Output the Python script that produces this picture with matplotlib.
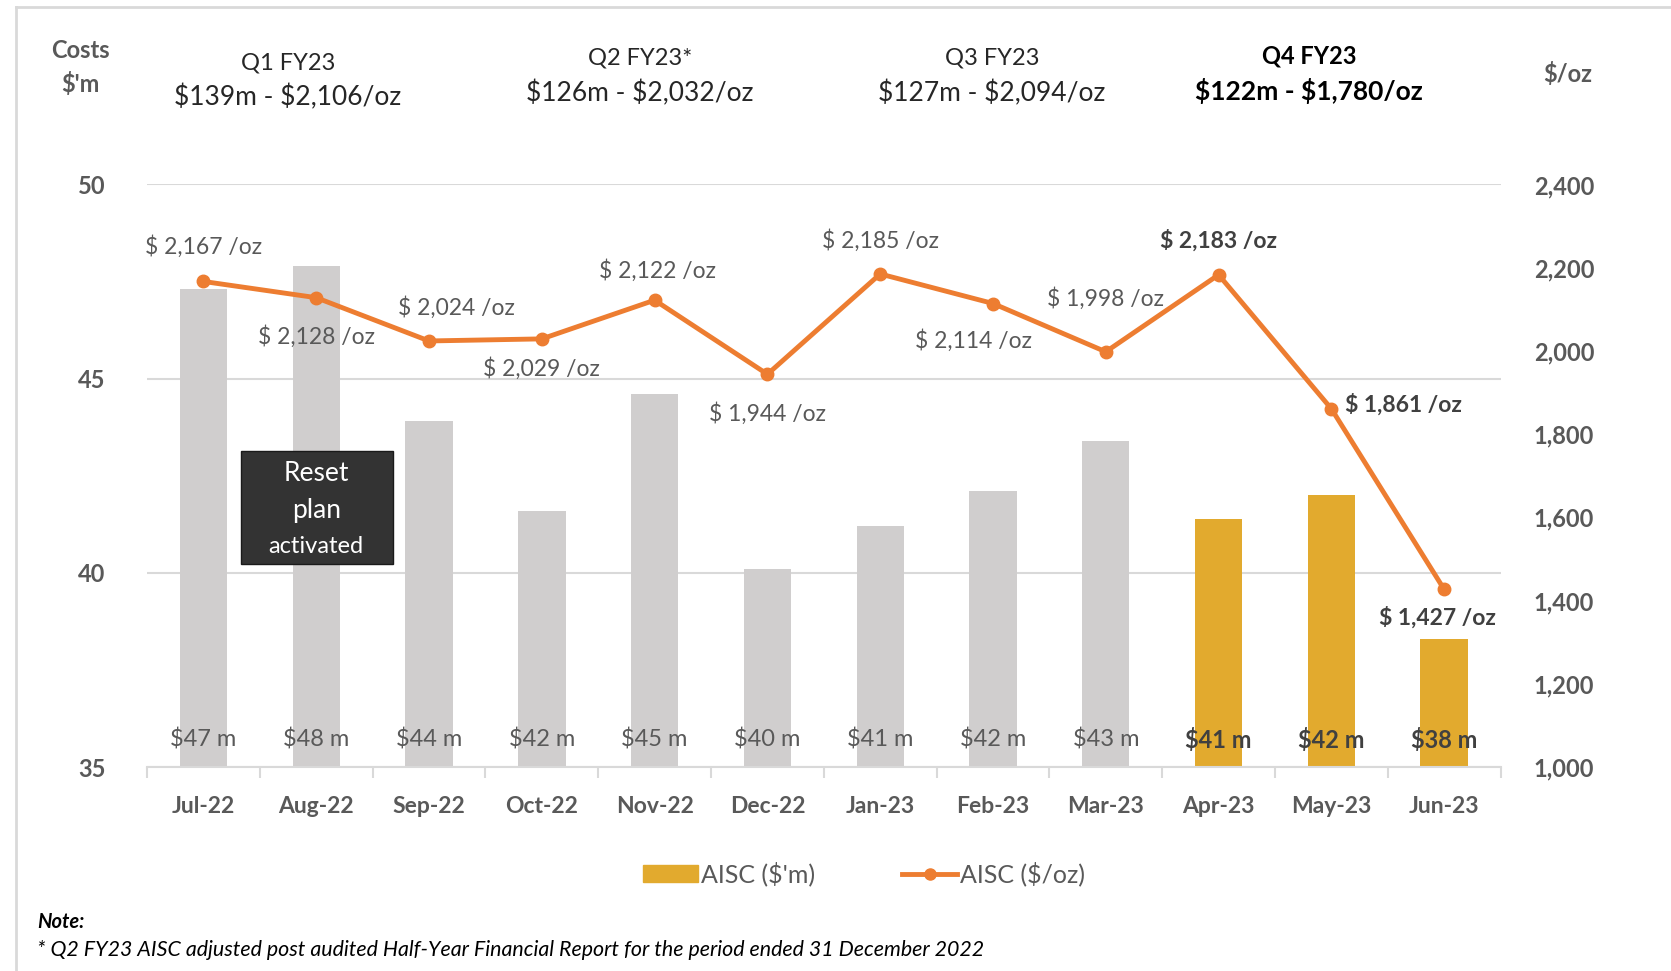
import numpy as np
import matplotlib
matplotlib.use("Agg")
import matplotlib.pyplot as plt
from matplotlib.patches import Rectangle, Patch
from matplotlib.lines import Line2D
from matplotlib import transforms

plt.rcParams['font.family'] = ['Lato', 'DejaVu Sans']

# ---------- data ----------
months = ['Jul-22', 'Aug-22', 'Sep-22', 'Oct-22', 'Nov-22', 'Dec-22',
          'Jan-23', 'Feb-23', 'Mar-23', 'Apr-23', 'May-23', 'Jun-23']
aisc_m = [47.3, 47.9, 43.9, 41.6, 44.6, 40.1, 41.2, 42.1, 43.4, 41.4, 42.0, 38.3]
aisc_oz = [2167, 2128, 2024, 2029, 2122, 1944, 2185, 2114, 1998, 2183, 1861, 1427]
bar_labels = ['$47 m', '$48 m', '$44 m', '$42 m', '$45 m', '$40 m',
              '$41 m', '$42 m', '$43 m', '$41 m', '$42 m', '$38 m']
q4_start = 9  # Apr-23 onward highlighted

quarters = ['Q1 FY23', 'Q2 FY23*', 'Q3 FY23', 'Q4 FY23']
quarter_vals = ['$139m - $2,106/oz', '$126m - $2,032/oz',
                '$127m - $2,094/oz', '$122m - $1,780/oz']

left_ticks = [35, 40, 45, 50]
right_ticks = [1000, 1200, 1400, 1600, 1800, 2000, 2200, 2400]

# ---------- style ----------
GREY_BAR = '#D0CECE'
GOLD = '#E2AA2E'
ORANGE = '#ED7D31'
TXT = '#595959'
GRID = '#D9D9D9'

fig = plt.figure(figsize=(16.71, 9.71), dpi=100)
ax = fig.add_axes([0.088, 0.210, 0.810, 0.600])
x = np.arange(len(months))

colors = [GOLD if i >= q4_start else GREY_BAR for i in x]
ax.bar(x, np.array(aisc_m) - 35, bottom=35, width=0.42, color=colors, zorder=2)
ax.set_ylim(35, 50)
ax.set_xlim(-0.5, len(months) - 0.5)
ax.set_yticks(left_ticks)
ax.set_yticklabels([str(t) for t in left_ticks], fontsize=17, fontweight='bold', color=TXT)
ax.grid(axis='y', color=GRID, lw=1.5, zorder=0)
ax.set_xticks(x)
ax.set_xticklabels(months, fontsize=16.5, fontweight='bold', color=TXT)
ax.set_xticks(np.arange(-0.5, len(months)), minor=True)
ax.tick_params(axis='x', which='major', length=0, pad=21)
ax.tick_params(axis='x', which='minor', length=8, color=GRID, width=1.5)
ax.tick_params(axis='y', length=0, pad=30)
for s in ['top', 'right', 'left']:
    ax.spines[s].set_visible(False)
ax.spines['bottom'].set_color(GRID)
ax.spines['bottom'].set_linewidth(1.5)

for i, lab in enumerate(bar_labels):
    bold = i >= q4_start
    ax.text(i, 35.7, lab, ha='center', va='center', fontsize=17,
            color='#404040' if bold else TXT, fontweight='bold' if bold else 'normal', zorder=4)

# reset plan box
ax.add_patch(Rectangle((0.33, 40.24), 1.35, 2.9, facecolor='#333333',
                       edgecolor='#1a1a1a', zorder=5))
ax.text(1.0, 42.57, 'Reset', ha='center', va='center', color='white', fontsize=19, zorder=6)
ax.text(1.0, 41.60, 'plan', ha='center', va='center', color='white', fontsize=19, zorder=6)
ax.text(1.0, 40.68, 'activated', ha='center', va='center', color='white', fontsize=17, zorder=6)

# line on right axis
ax2 = ax.twinx()
ax2.plot(x, aisc_oz, color=ORANGE, lw=3.5, marker='o', ms=9, zorder=3)
ax2.set_ylim(1000, 2400)
ax2.set_yticks(right_ticks)
ax2.set_yticklabels([f'{t:,}' for t in right_ticks], fontsize=17, fontweight='bold', color=TXT)
ax2.tick_params(axis='y', length=0, pad=24)
for s in ax2.spines.values():
    s.set_visible(False)

# label offsets in points (dx, dy)
offsets = [(0, 25), (0, -28), (20, 24), (0, -21), (2, 21), (0, -28),
           (0, 24), (-14, -27), (0, 38), (0, 25), (52, 3), (-5, -20)]
for i, (v, (dx, dy)) in enumerate(zip(aisc_oz, offsets)):
    bold = i >= q4_start
    ax2.annotate(f'$ {v:,} /oz', (i, v), xytext=(dx, dy), textcoords='offset points',
                 ha='center', va='center', fontsize=16.5,
                 color='#404040' if bold else TXT, fontweight='bold' if bold else 'normal',
                 zorder=6)

# quarter headers
trans = transforms.blended_transform_factory(ax.transData, fig.transFigure)
q_x = [0.75, 3.87, 6.99, 9.80]
q_y1 = [0.935, 0.940, 0.940, 0.942]
q_y2 = [0.900, 0.904, 0.904, 0.906]
for i, (q, qv) in enumerate(zip(quarters, quarter_vals)):
    bold = i == 3
    c = 'black' if bold else '#262626'
    fig.text(q_x[i], q_y1[i], q, transform=trans, ha='center', va='center', fontsize=17,
             color=c, fontweight='bold' if bold else 'normal')
    fig.text(q_x[i], q_y2[i], qv.replace('$', r'\$'), transform=trans, ha='center',
             va='center', fontsize=19, color=c, fontweight='bold' if bold else 'normal')

fig.text(0.048, 0.948, 'Costs', ha='center', va='center', fontsize=17, fontweight='bold', color=TXT)
fig.text(0.048, 0.914, "$'m", ha='center', va='center', fontsize=17, fontweight='bold', color=TXT)
fig.text(0.938, 0.924, '$/oz', ha='center', va='center', fontsize=17, fontweight='bold', color=TXT)

# legend
handles = [Patch(facecolor=GOLD, edgecolor=GOLD),
           Line2D([0], [0], color=ORANGE, lw=3.5, marker='o', ms=8)]
fig.legend(handles, ["AISC ($'m)", "AISC ($/oz)"], loc='center', bbox_to_anchor=(0.517, 0.100),
           ncol=2, frameon=False, fontsize=18, labelcolor=TXT, handlelength=2.2,
           handletextpad=0.1, columnspacing=3.5)

# note
fig.text(0.022, 0.050, 'Note:', fontsize=14.5, fontweight='bold', style='italic', va='center')
fig.text(0.022, 0.022, '* Q2 FY23 AISC adjusted post audited Half-Year Financial Report for the period ended 31 December 2022',
         fontsize=15.4, style='italic', va='center')

# frame lines
fig.add_artist(Line2D([0.0095, 1.0], [0.993, 0.993], color=GRID, lw=2, transform=fig.transFigure))
fig.add_artist(Line2D([0.0095, 0.0095], [0.0, 0.993], color=GRID, lw=2, transform=fig.transFigure))

fig.savefig('out.png', dpi=100)
